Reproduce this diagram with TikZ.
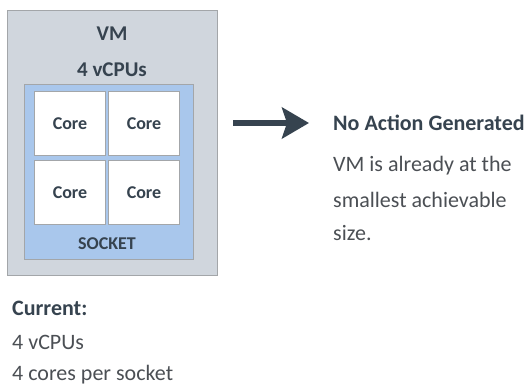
\documentclass[tikz,border=0pt]{standalone}
\usepackage{fontspec}
\setmainfont{Carlito}
\usetikzlibrary{arrows.meta,positioning}
\definecolor{vmgray}{HTML}{D0D6DD}
\definecolor{sockblue}{HTML}{A9C7EC}
\definecolor{edgegray}{HTML}{A3A6A9}
\definecolor{inkdark}{HTML}{36434F}
\definecolor{txtgray}{HTML}{4B4F54}
\tikzset{
  vmbox/.style={draw=edgegray,fill=vmgray,line width=1pt},
  sockbox/.style={draw=edgegray,fill=sockblue,line width=1pt},
  corebox/.style={draw=edgegray,fill=white,line width=1pt,minimum width=71pt,minimum height=64pt,inner sep=0pt,
    font=\fontsize{18}{20}\selectfont\bfseries,text=inkdark},
  boxlbl/.style={font=\fontsize{21}{24}\selectfont\bfseries,text=inkdark},
  sidetxt/.style={anchor=west,font=\fontsize{22}{26}\selectfont,text=txtgray,inner sep=0pt}
}
\begin{document}
\begin{tikzpicture}[x=1pt,y=-1pt]
\useasboundingbox (0,0) rectangle (528,388);
% vm and socket
\draw[vmbox] (7,10) rectangle (217,275);
\draw[sockbox] (24,84) rectangle (193,259);
\node[boxlbl] (vm) at (112,34) {VM};
\node[boxlbl] (vcpu) at (112,70) {4 vCPUs};
\node[corebox,anchor=north west] (c1) at (34,91) {Core};
\node[corebox,anchor=north west] (c2) at (108,91) {Core};
\node[corebox,anchor=north west] (c3) at (34,160) {Core};
\node[corebox,anchor=north west] (c4) at (108,160) {Core};
\node[boxlbl,font=\fontsize{18}{20}\selectfont\bfseries] (sock) at (107,244) {SOCKET};
% arrow
\coordinate (arrS) at (233,123);
\coordinate (arrE) at (309,123);
\draw[inkdark,line width=6.5pt,-{Stealth[length=27pt,width=31pt,inset=5pt]}] (arrS) -- (arrE);
% result text
\node[sidetxt,font=\fontsize{22}{26}\selectfont\bfseries,text=inkdark] (res) at (333,123) {No Action Generated};
\node[sidetxt] (d1) at (333,166) {VM is already at the};
\node[sidetxt] (d2) at (333,200) {smallest achievable};
\node[sidetxt] (d3) at (333,233) {size.};
% current
\node[sidetxt,font=\fontsize{22}{26}\selectfont\bfseries,text=inkdark] (cur) at (12,308) {Current:};
\node[sidetxt] (cur1) at (12,342) {4 vCPUs};
\node[sidetxt] (cur2) at (12,375) {4 cores per socket};
\end{tikzpicture}
\end{document}
